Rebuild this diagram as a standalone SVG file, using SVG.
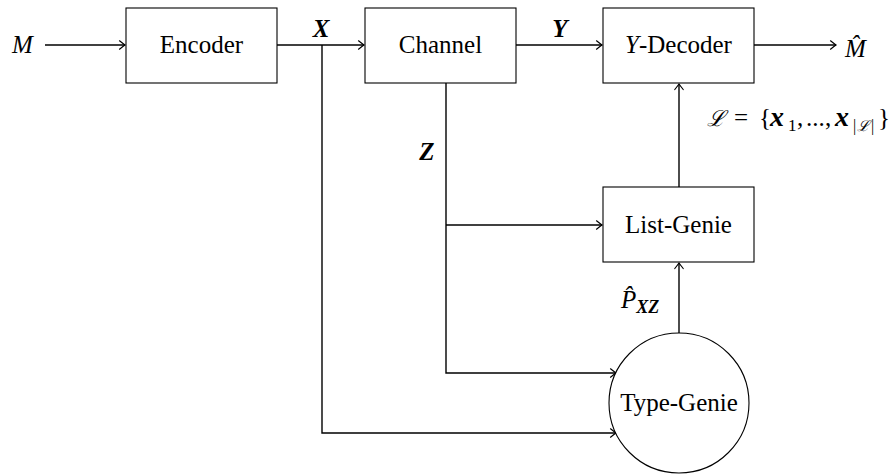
<svg xmlns="http://www.w3.org/2000/svg" width="890" height="476" viewBox="0 0 890 476">
<style>
.box{fill:#fff;stroke:#000;stroke-width:1.1}
.lbl{font-family:'Liberation Serif','Times New Roman',serif;font-size:25px;fill:#000}
.mi{font-style:italic}
.bi{font-style:italic;font-weight:bold}
.c{text-anchor:middle}
.cal{font-family:'DejaVu Serif',serif;font-style:italic}
.con{fill:none;stroke:#000;stroke-width:1.4}
</style>
<defs>
<marker id="arr" markerUnits="userSpaceOnUse" markerWidth="14" markerHeight="14" viewBox="-8 -7 10 14" refX="0" refY="0" orient="auto">
<path d="M -5.5 -4.2 Q -1.5 -1 0 0 Q -1.5 1 -5.5 4.2" fill="none" stroke="#000" stroke-width="1.2" stroke-linecap="round"/>
</marker>
</defs>
<rect width="890" height="476" fill="#fff"/>
<g id="connectors" class="con">
<path d="M 45 45 H 125" marker-end="url(#arr)"/>
<path d="M 277 45 H 364" marker-end="url(#arr)"/>
<path d="M 516 45 H 602" marker-end="url(#arr)"/>
<path d="M 754 45 H 836" marker-end="url(#arr)"/>
<path d="M 322 45 V 433 H 616" marker-end="url(#arr)"/>
<path d="M 446 83 V 373 H 616" marker-end="url(#arr)"/>
<path d="M 446 225 H 602" marker-end="url(#arr)"/>
<path d="M 679 333 V 263" marker-end="url(#arr)"/>
<path d="M 679 187 V 84" marker-end="url(#arr)"/>
</g>
<g id="M"><text class="lbl mi" x="12" y="53">M</text></g>
<g id="encoder"><rect class="box" x="126" y="8" width="151" height="75"/><text class="lbl c" x="201.5" y="53">Encoder</text></g>
<g id="channel"><rect class="box" x="365" y="8" width="151" height="75"/><text class="lbl c" x="440.5" y="53">Channel</text></g>
<g id="ydecoder"><rect class="box" x="603" y="8" width="151" height="75"/><text class="lbl c" x="678.5" y="53"><tspan class="mi">Y</tspan>-Decoder</text></g>
<g id="listgenie"><rect class="box" x="603" y="187" width="151" height="75"/><text class="lbl c" x="678.5" y="233">List-Genie</text></g>
<g id="typegenie"><circle class="box" cx="679" cy="403" r="70"/><text class="lbl c" x="679" y="411">Type-Genie</text></g>
<g id="Mhat"><text class="lbl mi" x="845" y="57">M̂</text></g>
<g id="labels">
<text class="lbl bi c" x="321" y="37">X</text>
<text class="lbl bi c" x="560" y="37">Y</text>
<text class="lbl bi c" x="427" y="160">Z</text>
<text class="lbl" x="621" y="308"><tspan class="mi">P̂</tspan><tspan class="bi" font-size="18" dy="5">XZ</tspan></text>
<text class="lbl" y="126"><tspan class="cal" x="707" font-size="22">ℒ</tspan><tspan x="734">=</tspan><tspan x="759">{</tspan><tspan class="bi" x="770" font-size="28">x</tspan><tspan x="788" y="131" font-size="17">1</tspan><tspan x="797" y="126">,</tspan><tspan x="806">...</tspan><tspan x="825">,</tspan><tspan class="bi" x="835" font-size="28">x</tspan><tspan x="853" y="131" font-size="16">|</tspan><tspan class="cal" x="857" y="131" font-size="15">ℒ</tspan><tspan x="871" y="131" font-size="16">|</tspan><tspan x="878" y="126">}</tspan></text>
</g>
</svg>
